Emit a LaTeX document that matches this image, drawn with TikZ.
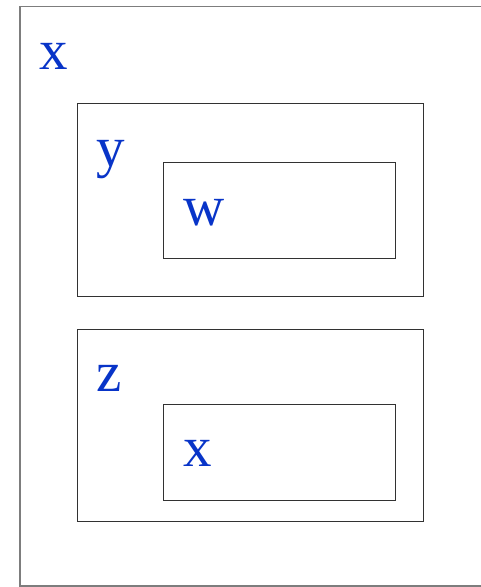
\documentclass[tikz,border=0pt]{standalone}
\usepackage{fontspec}
\setmainfont{Liberation Serif}
\definecolor{lblue}{RGB}{8,52,200}
\definecolor{outgray}{RGB}{125,125,125}
\definecolor{ingray}{RGB}{50,50,50}
\tikzset{
  lbl/.style={anchor=base west, inner sep=0pt, text=lblue, font=\fontsize{57}{60}\selectfont},
  box/.style={draw=ingray, line width=1pt, anchor=north west, inner sep=0pt, outer sep=0pt},
  outerbox/.style={draw=outgray, line width=1.3pt, anchor=north west, inner sep=0pt, outer sep=0pt}
}
\begin{document}
\begin{tikzpicture}[x=1pt,y=-1pt]
\useasboundingbox (0,0) rectangle (481,587);
\node[outerbox, minimum width=470pt, minimum height=579.5pt] (outer) at (20,6.5) {};
\node[box, minimum width=346.5pt, minimum height=192.5pt] (ybox) at (77,103.5) {};
\node[box, minimum width=231.5pt, minimum height=96.5pt] (wbox) at (163.5,162) {};
\node[box, minimum width=346.5pt, minimum height=192pt] (zbox) at (77,329) {};
\node[box, minimum width=231.5pt, minimum height=96pt] (xbox) at (163.5,404) {};
\node[lbl] (xl) at (39,69) {x};
\node[lbl] (yl) at (96,166) {y};
\node[lbl] (wl) at (183,225) {w};
\node[lbl] (zl) at (96,391) {z};
\node[lbl] (xil) at (183,466) {x};
\end{tikzpicture}
\end{document}
